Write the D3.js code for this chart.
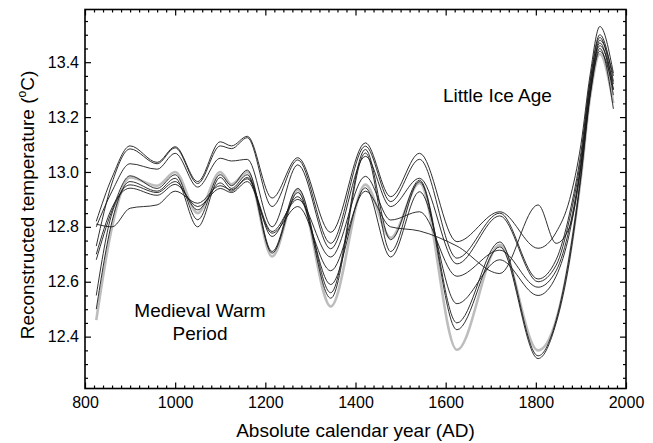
<!DOCTYPE html>
<html>
<head>
<meta charset="utf-8">
<script src="https://cdn.jsdelivr.net/npm/d3@7"></script>
<style>
  html, body { margin: 0; padding: 0; background: #fff; }
  svg { display: block; font-family: "Liberation Sans", Arial, sans-serif; }
</style>
</head>
<body>
<svg id="chart" width="653" height="443"></svg>
<script>
// ---- data ----
const years = [825, 860, 900, 960, 1000, 1050, 1100, 1125, 1160, 1215, 1272, 1345, 1422, 1478, 1542, 1625, 1720, 1805, 1845, 1875, 1900, 1920, 1942, 1972];

const recon1 = [12.82, 12.98, 13.095, 13.035, 13.092, 12.965, 13.11, 13.095, 13.13, 12.905, 13.052, 12.78, 13.106, 12.91, 13.068, 12.746, 12.855, 12.722, 12.78, 12.90, 13.10, 13.35, 13.53, 13.36];
const recon2 = [12.73, 12.96, 13.084, 13.03, 13.088, 12.958, 13.095, 13.085, 13.125, 12.874, 13.044, 12.74, 13.094, 12.892, 13.046, 12.686, 12.85, 12.61, 12.68, 12.85, 13.07, 13.33, 13.50, 13.33];
const recon3 = [12.80, 12.93, 13.03, 13.01, 13.068, 12.945, 13.05, 13.04, 13.046, 12.80, 13.026, 12.72, 13.057, 12.874, 12.977, 12.665, 12.84, 12.60, 12.66, 12.83, 13.05, 13.32, 13.49, 13.30];
const recon4 = [12.81, 12.80, 12.868, 12.88, 12.93, 12.886, 12.95, 12.935, 12.975, 12.783, 12.90, 12.69, 12.984, 12.825, 12.855, 12.62, 12.715, 12.58, 12.64, 12.80, 13.03, 13.30, 13.47, 13.28];
const recon5 = [12.70, 12.87, 12.941, 12.915, 12.955, 12.874, 12.94, 12.925, 12.965, 12.777, 12.874, 12.64, 12.93, 12.80, 12.785, 12.73, 12.63, 12.88, 12.74, 12.80, 13.02, 13.28, 13.45, 13.23];
const recon6 = [12.68, 12.86, 12.986, 12.94, 12.99, 12.826, 12.99, 12.95, 13.007, 12.71, 12.94, 12.56, 13.082, 12.753, 12.97, 12.45, 12.745, 12.33, 12.46, 12.70, 12.99, 13.28, 13.48, 13.35];
const recon7 = [12.50, 12.82, 12.965, 12.93, 12.977, 12.80, 12.98, 12.94, 12.99, 12.704, 12.925, 12.54, 13.069, 12.71, 12.965, 12.425, 12.727, 12.32, 12.45, 12.68, 12.98, 13.27, 13.44, 13.30];
const recon8 = [12.55, 12.85, 12.953, 12.925, 12.965, 12.862, 12.96, 12.93, 12.98, 12.765, 12.91, 12.59, 12.942, 12.69, 12.928, 12.52, 12.68, 12.55, 12.62, 12.78, 13.02, 13.30, 13.46, 13.32];
const reconGray = [12.46, 12.80, 12.98, 12.95, 13.0, 12.85, 13.0, 12.955, 13.0, 12.692, 12.935, 12.51, 12.954, 12.76, 12.96, 12.352, 12.735, 12.35, 12.46, 12.69, 12.98, 13.27, 13.43, 13.25];

const blackSeries = [recon1, recon2, recon3, recon4, recon5, recon6, recon7, recon8];
const graySeries = [reconGray];

const xTicks = [800, 1000, 1200, 1400, 1600, 1800, 2000];
const yTicks = [12.4, 12.6, 12.8, 13.0, 13.2, 13.4];
const xTitle = "Absolute calendar year (AD)";
const yTitleMain = "Reconstructed temperature (";
const yTitleSup = "o";
const yTitleEnd = "C)";
const annoLIA = "Little Ice Age";
const annoMWP = ["Medieval Warm", "Period"];

// ---- layout ----
const padL = 85, padR = 626, padT = 9.5, padB = 388.5;
const svg = d3.select("#chart");

const x = d3.scaleLinear().domain([800, 2000]).range([padL, padR]);
const y = d3.scaleLinear().domain([12.211, 13.592]).range([padB, padT]);

const xMinor = d3.range(820, 2000, 20).filter(v => v % 200 !== 0);
const yMinor = d3.range(12.25, 13.59, 0.05).map(v => +v.toFixed(2)).filter(v => Math.abs((v * 5) - Math.round(v * 5)) > 1e-6);

const line = d3.line()
  .x((d, i) => x(years[i]))
  .y(d => y(d))
  .curve(d3.curveMonotoneX);

const plot = svg.append("g");
plot.selectAll("path.gray").data(graySeries).join("path")
  .attr("class", "gray")
  .attr("d", line)
  .attr("fill", "none")
  .attr("stroke", "#bdbdbd")
  .attr("stroke-width", 2.6);

plot.selectAll("path.black").data(blackSeries).join("path")
  .attr("class", "black")
  .attr("d", line)
  .attr("fill", "none")
  .attr("stroke", "#1a1a1a")
  .attr("stroke-width", 0.9);

// ---- axes (ticks pointing inward) ----
function styleAxis(g) {
  g.select(".domain").remove();
  g.selectAll(".tick line").attr("stroke", "#000").attr("stroke-width", 1.2);
  g.selectAll(".tick text").attr("fill", "#000").attr("font-size", 16);
}

svg.append("g").attr("transform", `translate(0,${padB})`)
  .call(d3.axisBottom(x).tickValues(xTicks).tickFormat(d3.format("d")).tickSize(-6).tickPadding(8))
  .call(styleAxis);
svg.append("g").attr("transform", `translate(0,${padB})`)
  .call(d3.axisBottom(x).tickValues(xMinor).tickFormat("").tickSize(-3))
  .call(styleAxis);
svg.append("g").attr("transform", `translate(0,${padT})`)
  .call(d3.axisTop(x).tickValues(xTicks).tickFormat("").tickSize(-6))
  .call(styleAxis);
svg.append("g").attr("transform", `translate(0,${padT})`)
  .call(d3.axisTop(x).tickValues(xMinor).tickFormat("").tickSize(-3))
  .call(styleAxis);

svg.append("g").attr("transform", `translate(${padL},0)`)
  .call(d3.axisLeft(y).tickValues(yTicks).tickFormat(d3.format(".1f")).tickSize(-6).tickPadding(6))
  .call(styleAxis);
svg.append("g").attr("transform", `translate(${padL},0)`)
  .call(d3.axisLeft(y).tickValues(yMinor).tickFormat("").tickSize(-3))
  .call(styleAxis);
svg.append("g").attr("transform", `translate(${padR},0)`)
  .call(d3.axisRight(y).tickValues(yTicks).tickFormat("").tickSize(-6))
  .call(styleAxis);
svg.append("g").attr("transform", `translate(${padR},0)`)
  .call(d3.axisRight(y).tickValues(yMinor).tickFormat("").tickSize(-3))
  .call(styleAxis);

svg.append("rect")
  .attr("x", padL).attr("y", padT)
  .attr("width", padR - padL).attr("height", padB - padT)
  .attr("fill", "none").attr("stroke", "#000").attr("stroke-width", 1.6);

// ---- titles ----
svg.append("text")
  .attr("x", (padL + padR) / 2).attr("y", 437)
  .attr("text-anchor", "middle").attr("font-size", 19).attr("fill", "#000")
  .text(xTitle);

const yt = svg.append("text")
  .attr("transform", `translate(34,${(62 + 348) / 2}) rotate(-90)`)
  .attr("text-anchor", "middle").attr("font-size", 19).attr("fill", "#000");
yt.append("tspan").text(yTitleMain);
yt.append("tspan").attr("font-size", 12).attr("dy", -8).text(yTitleSup);
yt.append("tspan").attr("dy", 8).text(yTitleEnd);

// ---- annotations ----
svg.append("text")
  .attr("x", 443).attr("y", 102)
  .attr("font-size", 19).attr("fill", "#000")
  .text(annoLIA);
svg.append("text")
  .attr("x", 200).attr("y", 317)
  .attr("text-anchor", "middle").attr("font-size", 19).attr("fill", "#000")
  .text(annoMWP[0]);
svg.append("text")
  .attr("x", 200).attr("y", 340)
  .attr("text-anchor", "middle").attr("font-size", 19).attr("fill", "#000")
  .text(annoMWP[1]);
</script>
</body>
</html>
